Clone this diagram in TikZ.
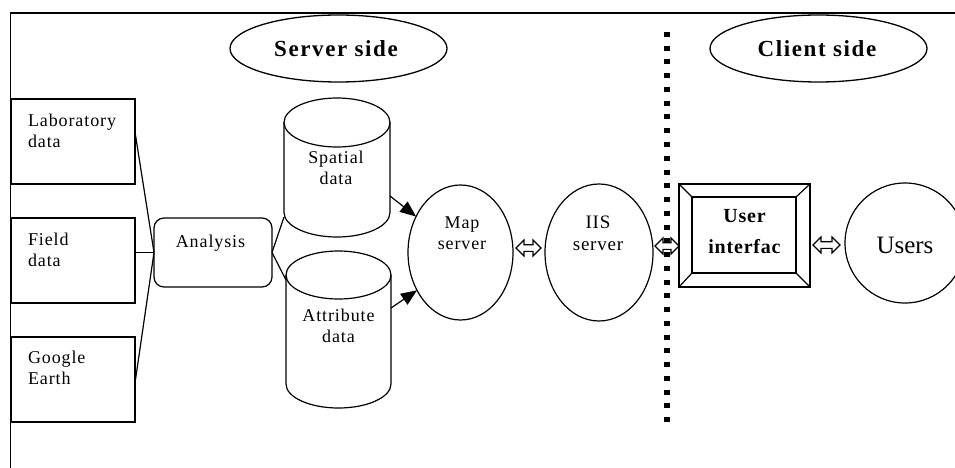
\documentclass[tikz,border=0pt]{standalone}
\usepackage{fontspec}
\setmainfont{Liberation Serif}
\usetikzlibrary{shapes.geometric,arrows.meta,calc}
\newcommand\dblarrow[2]{%
  \draw[harrow] (#1) -- ++(8,8) -- ++(0,-4.7) -- ($(#2)+(-8,3.3)$) -- ++(0,4.7) -- (#2)
    -- ++(-8,-8) -- ++(0,4.7) -- ($(#1)+(8,-3.3)$) -- ++(0,-4.7) -- cycle;}
\begin{document}
\begin{tikzpicture}[x=1pt,y=1pt,
  every node/.style={inner sep=0pt, outer sep=0pt},
  lw/.style={line width=1.2pt},
  srcbox/.style={draw, lw, minimum width=124pt, minimum height=85pt},
  lbl/.style={anchor=base west, align=left, font=\fontsize{18}{21}\selectfont\addfontfeatures{LetterSpace=5}},
  clbl/.style={anchor=base, align=center, font=\fontsize{18}{21}\selectfont\addfontfeatures{LetterSpace=5}},
  oval/.style={draw, lw, ellipse},
  head/.style={draw, line width=1.3pt, ellipse, minimum width=217pt, minimum height=67pt},
  headtxt/.style={anchor=base, font=\fontsize{23}{26}\selectfont\bfseries\addfontfeatures{LetterSpace=7}},
  link/.style={lw},
  feed/.style={lw, -{Triangle[length=16pt, width=13pt]}},
  harrow/.style={line width=1.1pt, line join=miter},
  sep/.style={line width=6pt, dash pattern=on 5pt off 8.75pt}
 ]
\useasboundingbox (0,0) rectangle (955,-468);
\clip (0,0) rectangle (955,-468);

% frame
\draw[line width=1.5pt] (955,-13) -- (10.5,-13) -- (10.5,-468);

% headings
\node[head] (server) at (338.5,-48.5) {};
\node[headtxt] (servert) at (336,-57) {Server side};
\node[head] (client) at (818.5,-48.5) {};
\node[headtxt] (clientt) at (817,-57) {Client side};

% source boxes (text anchored at the baseline of the last line)
\node[srcbox] (lab) at (73,-141.5) {};
\node[lbl] (labt) at (28,-147) {Laboratory\\data};
\node[srcbox] (field) at (73,-260.5) {};
\node[lbl] (fieldt) at (28,-266) {Field\\data};
\node[srcbox] (google) at (73,-379.5) {};
\node[lbl] (googlet) at (28,-384) {Google\\Earth};

% analysis
\node[draw, lw, rounded corners=10pt, minimum width=118pt, minimum height=69pt] (analysis) at (213,-252.5) {};
\node[clbl] (analysist) at (210.5,-247) {Analysis};

% cylinders
\node[minimum width=106pt, minimum height=139pt] (spatial) at (337,-167.5) {};
\draw[lw] ($(spatial.north)+(0,-24.5)$) ellipse [x radius=53, y radius=24.5];
\draw[lw] ($(spatial.north west)+(0,-24.5)$) -- ($(spatial.south west)+(0,24.5)$)
  arc[start angle=180, end angle=360, x radius=53, y radius=24.5] -- ($(spatial.north east)+(0,-24.5)$);
\node[clbl] (spatialt) at (336,-184) {Spatial\\data};

\node[minimum width=105pt, minimum height=157pt] (attr) at (338.5,-329.5) {};
\draw[lw] ($(attr.north)+(0,-24)$) ellipse [x radius=52.5, y radius=24];
\draw[lw] ($(attr.north west)+(0,-24)$) -- ($(attr.south west)+(0,24)$)
  arc[start angle=180, end angle=360, x radius=52.5, y radius=24] -- ($(attr.north east)+(0,-24)$);
\node[clbl] (attrt) at (338.5,-342) {Attribute\\data};

% servers
\node[oval, minimum width=105pt, minimum height=135pt] (map) at (460.5,-252.5) {};
\node[clbl] (mapt) at (462,-249) {Map\\server};
\node[oval, minimum width=108pt, minimum height=137pt] (iis) at (599,-252.5) {};
\node[clbl, font=\fontsize{19}{22}\selectfont\addfontfeatures{LetterSpace=4}] (iist) at (598,-250) {IIS\\server};

% user interface
\node[draw, lw, minimum width=131pt, minimum height=103pt] (ui) at (744.5,-235.5) {};
\node[draw, lw, minimum width=104pt, minimum height=76pt] (uiin) at (744,-235) {};
\draw[lw] (ui.north west) -- (uiin.north west);
\draw[lw] (ui.north east) -- (uiin.north east);
\draw[lw] (ui.south west) -- (uiin.south west);
\draw[lw] (ui.south east) -- (uiin.south east);
\node[anchor=base, align=center, font=\fontsize{20}{31}\selectfont\bfseries\addfontfeatures{LetterSpace=4}] (uit) at (744.5,-253) {User\\interfac};

% users
\node[draw, lw, circle, minimum size=120pt] (users) at (905,-243) {};
\node[anchor=base, font=\fontsize{25}{28}\selectfont] (userst) at (905,-253) {Users};

% links
\draw[link] ($(lab.east)+(0,9.5)$) -- (analysis.west);
\draw[link] (field.east |- analysis.west) -- (analysis.west);
\draw[link] ($(google.east)+(0,-3.5)$) -- (analysis.west);
\draw[link] (analysis.east) -- ($(spatial.south west)+(0,20)$);
\draw[link] (analysis.east) -- ($(attr.north west)+(0,-29)$);
\draw[feed] ($(spatial.east)+(0,-28.5)$) -- (map.141);
\draw[feed] ($(attr.east)+(0,21.5)$) -- (map.221);

% double arrows
\coordinate (a1l) at ($(map.east)+(3,4.5)$);
\coordinate (a1r) at ($(iis.west)+(-4,4.5)$);
\coordinate (a2l) at ($(iis.east)+(2,6.5)$);
\coordinate (a2r) at ($(ui.west)+(0,-10.5)$);
\coordinate (a3l) at ($(ui.east)+(3,-9.5)$);
\coordinate (a3r) at ($(users.west)+(-5,-2)$);
\dblarrow{a1l}{a1r}
\dblarrow{a2l}{a2r}
\dblarrow{a3l}{a3r}

% separator
\coordinate (s1) at (667,-32);
\coordinate (s2) at (667,-422);
\draw[sep] (s1) -- (s2);
\end{tikzpicture}
\end{document}
